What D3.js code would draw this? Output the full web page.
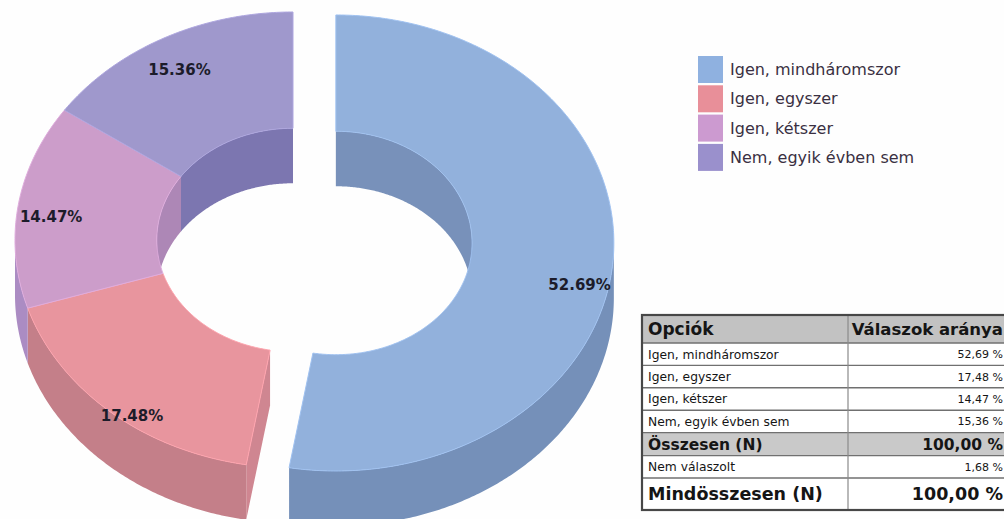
<!DOCTYPE html>
<html>
<head>
<meta charset="utf-8">
<script src="https://cdn.jsdelivr.net/npm/d3@7"></script>
<style>
  body { margin: 0; background: #fff; }
  svg { display: block; }
</style>
</head>
<body>
<div id="root"></div>
<script>
const width = 1004;
const height = 519;

// chart data
const categories = ['Igen, mindháromszor', 'Igen, egyszer', 'Igen, kétszer', 'Nem, egyik évben sem'];
const shares = [52.69, 17.48, 14.47, 15.36];
const exploded = [true, false, false, false];
const totalShare = 100.00;
const noAnswerLabel = 'Nem válaszolt';
const noAnswerShare = 1.68;
const grandTotal = 100.00;

// colours: top face, outer wall, inner wall, legend swatch
const topColors = ['#92b1dc', '#e8959e', '#cc9dca', '#9f98cc'];
const wallColors = ['#7590b9', '#c47f89', '#ab8cc3', '#7c76b0'];
const innerColors = ['#7891ba', '#c47f89', '#ad87b6', '#7c76b0'];
const legendColors = ['#8fb1e0', '#e88f99', '#cc9ad0', '#9a90cc'];

// 3d donut geometry
const cx = 293, cy = 240, rx = 278, ry = 228;
const holeRatio = 0.49;
const depth = 55;
const explodeDist = 43;

const svg = d3.select('#root')
    .append('svg')
    .attr('width', width)
    .attr('height', height);

svg.append('rect').attr('width', width).attr('height', height).attr('fill', '#fefefe');

const pie = d3.pie().sort(null).value(d => d);
const arcs = pie(shares);
const line = d3.line();

// project an angle (clockwise from 12 o'clock), radius ratio and depth to the screen
const pt = (c, a, r, z) => [c[0] + rx * r * Math.sin(a), c[1] - ry * r * Math.cos(a) + z];
const arcPts = (c, a0, a1, r, z) => {
    const n = Math.max(2, Math.ceil(Math.abs(a1 - a0) / 0.01));
    return d3.range(n + 1).map(i => pt(c, a0 + (a1 - a0) * i / n, r, z));
};
const band = (c, a0, a1, r0, z0, r1, z1) =>
    line(arcPts(c, a0, a1, r0, z0).concat(arcPts(c, a1, a0, r1, z1))) + 'Z';
const clip = (a0, a1, lo, hi) => {
    const s = Math.max(a0, lo), e = Math.min(a1, hi);
    return s < e ? [s, e] : null;
};

const slices = arcs.map((d, i) => {
    const mid = (d.startAngle + d.endAngle) / 2;
    const off = exploded[i] ? explodeDist : 0;
    const c = [cx + off * Math.sin(mid), cy - off * (ry / rx) * Math.cos(mid)];
    return {a0: d.startAngle, a1: d.endAngle, mid, c, i};
});

const gInner = svg.append('g');
const gEnds = svg.append('g');
const gOuter = svg.append('g');
const gTop = svg.append('g');
const gLabels = svg.append('g');

const n = slices.length;
slices.forEach(s => {
    // inner walls on the back half
    [[0, Math.PI / 2], [3 * Math.PI / 2, 2 * Math.PI]].forEach(([lo, hi]) => {
        const r = clip(s.a0, s.a1, lo, hi);
        if (r) {
            gInner.append('path')
                .attr('d', band(s.c, r[0], r[1], holeRatio, 0, holeRatio, depth))
                .attr('fill', innerColors[s.i]);
        }
    });
    // outer walls on the front half
    const fr = clip(s.a0, s.a1, Math.PI / 2, 3 * Math.PI / 2);
    if (fr) {
        gOuter.append('path')
            .attr('d', band(s.c, fr[0], fr[1], 1, 0, 1, depth))
            .attr('fill', wallColors[s.i]);
    }
    // cut faces next to the pulled-out slice
    const prev = (s.i - 1 + n) % n, next = (s.i + 1) % n;
    const face = a => line([pt(s.c, a, holeRatio, 0), pt(s.c, a, 1, 0), pt(s.c, a, 1, depth), pt(s.c, a, holeRatio, depth)]) + 'Z';
    if ((exploded[s.i] || exploded[prev]) && Math.sin(s.a0) < -1e-6) {
        gEnds.append('path').attr('d', face(s.a0))
            .attr('fill', d3.color(wallColors[s.i]).brighter(0.15));
    }
    if ((exploded[s.i] || exploded[next]) && Math.sin(s.a1) > 1e-6) {
        gEnds.append('path').attr('d', face(s.a1))
            .attr('fill', d3.color(wallColors[s.i]).brighter(0.15));
    }
    // top face
    gTop.append('path')
        .attr('d', band(s.c, s.a0, s.a1, 1, 0, holeRatio, 0))
        .attr('fill', topColors[s.i])
        .attr('stroke', d3.color(topColors[s.i]).brighter(0.25))
        .attr('stroke-width', 1);
    // percentage label, sunk a bit lower on the front half where the wall shows
    const front = Math.cos(s.mid) < 0;
    const lp = pt(s.c, s.mid, 0.88, front ? depth * 0.45 : depth * 0.13);
    gLabels.append('text')
        .attr('x', lp[0])
        .attr('y', lp[1])
        .attr('dy', '0.35em')
        .attr('text-anchor', 'middle')
        .attr('font-family', 'DejaVu Sans, Verdana, sans-serif')
        .attr('font-weight', 'bold')
        .attr('font-size', 15)
        .attr('fill', '#1c1c2a')
        .text(`${shares[s.i].toFixed(2)}%`);
});

// legend
const legend = svg.append('g').attr('transform', 'translate(698,56)');
const legendRow = 29.3;
legend.selectAll('rect')
    .data(categories)
    .join('rect')
    .attr('x', 0)
    .attr('y', (d, i) => i * legendRow)
    .attr('width', 25)
    .attr('height', 27)
    .attr('fill', (d, i) => legendColors[i]);
legend.selectAll('text')
    .data(categories)
    .join('text')
    .attr('x', 32)
    .attr('y', (d, i) => i * legendRow + 13.5)
    .attr('dy', '0.35em')
    .attr('font-family', 'DejaVu Sans, Verdana, sans-serif')
    .attr('font-size', 16)
    .attr('fill', '#3a3042')
    .text(d => d);

// summary table (cut off by the right edge of the picture)
const fmt = v => `${v.toFixed(2).replace('.', ',')} %`;
const tableRows = [
    {name: 'Opciók', value: 'Válaszok aránya', kind: 'head'},
    ...categories.map((c, i) => ({name: c, value: fmt(shares[i]), kind: 'row'})),
    {name: 'Összesen (N)', value: fmt(totalShare), kind: 'total'},
    {name: noAnswerLabel, value: fmt(noAnswerShare), kind: 'row'},
    {name: 'Mindösszesen (N)', value: fmt(grandTotal), kind: 'grand'}
];
const rowHeight = {head: 28, row: 22.4, total: 23, grand: 32};
const rowFont = {head: 17, row: 12.3, total: 15.5, grand: 17.5};
const valueFont = {head: 16.5, row: 11, total: 15.5, grand: 17.5};
const tx0 = 642, tx1 = 1010, colX = 848, ty0 = 315;

let yAcc = ty0;
tableRows.forEach(r => { r.y = yAcc; r.h = rowHeight[r.kind]; yAcc += r.h; });
const ty1 = yAcc;

const table = svg.append('g');
table.selectAll('rect.bg')
    .data(tableRows)
    .join('rect')
    .attr('class', 'bg')
    .attr('x', tx0)
    .attr('y', d => d.y)
    .attr('width', tx1 - tx0)
    .attr('height', d => d.h)
    .attr('fill', d => d.kind === 'head' ? '#c2c2c2' : d.kind === 'total' ? '#c9c9c9' : '#ffffff');
table.selectAll('line.sep')
    .data(tableRows.slice(1))
    .join('line')
    .attr('class', 'sep')
    .attr('x1', tx0).attr('x2', tx1)
    .attr('y1', d => d.y).attr('y2', d => d.y)
    .attr('stroke', '#707070')
    .attr('stroke-width', 1.4);
table.append('line')
    .attr('x1', colX).attr('x2', colX)
    .attr('y1', ty0).attr('y2', ty1)
    .attr('stroke', '#8a8a8a')
    .attr('stroke-width', 1.2);
table.append('rect')
    .attr('x', tx0).attr('y', ty0)
    .attr('width', tx1 - tx0).attr('height', ty1 - ty0)
    .attr('fill', 'none')
    .attr('stroke', '#474747')
    .attr('stroke-width', 2.2);
table.selectAll('text.name')
    .data(tableRows)
    .join('text')
    .attr('class', 'name')
    .attr('x', tx0 + 6)
    .attr('y', d => d.y + d.h / 2)
    .attr('dy', '0.36em')
    .attr('font-family', 'DejaVu Sans, Verdana, sans-serif')
    .attr('font-weight', d => d.kind === 'row' ? 'normal' : 'bold')
    .attr('font-size', d => rowFont[d.kind])
    .attr('fill', '#151515')
    .text(d => d.name);
table.selectAll('text.value')
    .data(tableRows)
    .join('text')
    .attr('class', 'value')
    .attr('x', 1003)
    .attr('y', d => d.y + d.h / 2)
    .attr('dy', '0.36em')
    .attr('text-anchor', 'end')
    .attr('font-family', 'DejaVu Sans, Verdana, sans-serif')
    .attr('font-weight', d => d.kind === 'row' ? 'normal' : 'bold')
    .attr('font-size', d => valueFont[d.kind])
    .attr('fill', '#151515')
    .text(d => d.value);
</script>
</body>
</html>
